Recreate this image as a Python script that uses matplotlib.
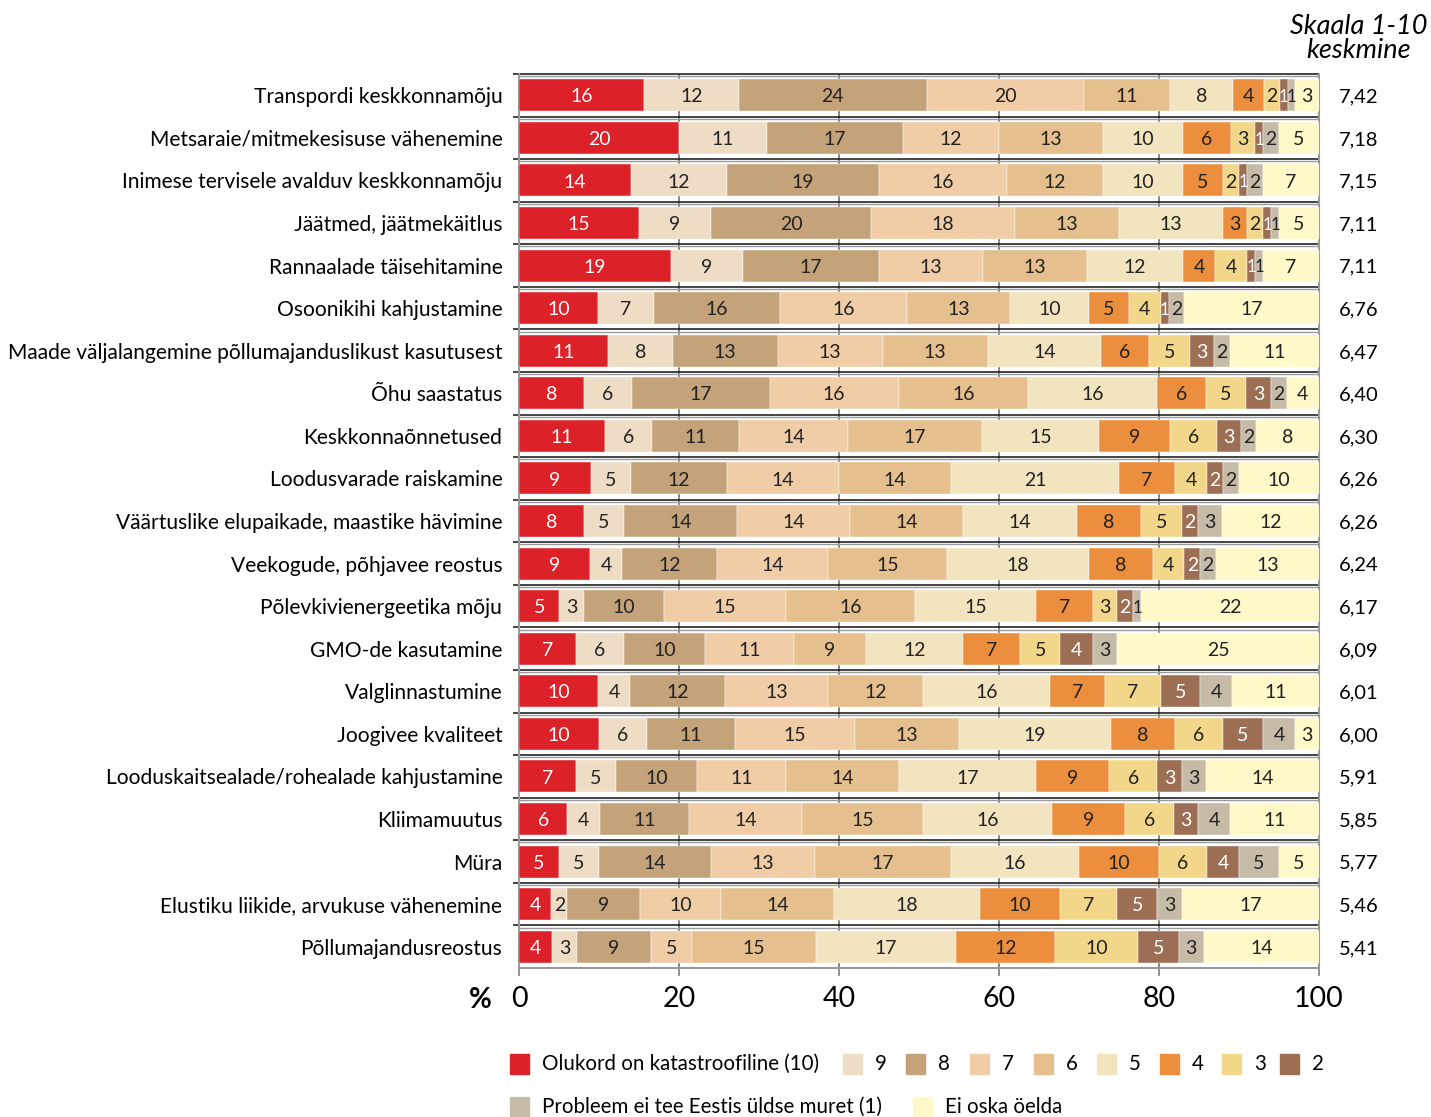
import numpy as np
import matplotlib.pyplot as plt
from matplotlib.patches import Rectangle

plt.rcParams['font.family'] = ['Lato', 'DejaVu Sans']

categories = [
    'Transpordi keskkonnamõju',
    'Metsaraie/mitmekesisuse vähenemine',
    'Inimese tervisele avalduv keskkonnamõju',
    'Jäätmed, jäätmekäitlus',
    'Rannaalade täisehitamine',
    'Osoonikihi kahjustamine',
    'Maade väljalangemine põllumajanduslikust kasutusest',
    'Õhu saastatus',
    'Keskkonnaõnnetused',
    'Loodusvarade raiskamine',
    'Väärtuslike elupaikade, maastike hävimine',
    'Veekogude, põhjavee reostus',
    'Põlevkivienergeetika mõju',
    'GMO-de kasutamine',
    'Valglinnastumine',
    'Joogivee kvaliteet',
    'Looduskaitsealade/rohealade kahjustamine',
    'Kliimamuutus',
    'Müra',
    'Elustiku liikide, arvukuse vähenemine',
    'Põllumajandusreostus',
]

# columns: score 10, 9, 8, 7, 6, 5, 4, 3, 2, 1, "ei oska öelda"
shares = [
    [16, 12, 24, 20, 11, 8, 4, 2, 1, 1, 3],
    [20, 11, 17, 12, 13, 10, 6, 3, 1, 2, 5],
    [14, 12, 19, 16, 12, 10, 5, 2, 1, 2, 7],
    [15, 9, 20, 18, 13, 13, 3, 2, 1, 1, 5],
    [19, 9, 17, 13, 13, 12, 4, 4, 1, 1, 7],
    [10, 7, 16, 16, 13, 10, 5, 4, 1, 2, 17],
    [11, 8, 13, 13, 13, 14, 6, 5, 3, 2, 11],
    [8, 6, 17, 16, 16, 16, 6, 5, 3, 2, 4],
    [11, 6, 11, 14, 17, 15, 9, 6, 3, 2, 8],
    [9, 5, 12, 14, 14, 21, 7, 4, 2, 2, 10],
    [8, 5, 14, 14, 14, 14, 8, 5, 2, 3, 12],
    [9, 4, 12, 14, 15, 18, 8, 4, 2, 2, 13],
    [5, 3, 10, 15, 16, 15, 7, 3, 2, 1, 22],
    [7, 6, 10, 11, 9, 12, 7, 5, 4, 3, 25],
    [10, 4, 12, 13, 12, 16, 7, 7, 5, 4, 11],
    [10, 6, 11, 15, 13, 19, 8, 6, 5, 4, 3],
    [7, 5, 10, 11, 14, 17, 9, 6, 3, 3, 14],
    [6, 4, 11, 14, 15, 16, 9, 6, 3, 4, 11],
    [5, 5, 14, 13, 17, 16, 10, 6, 4, 5, 5],
    [4, 2, 9, 10, 14, 18, 10, 7, 5, 3, 17],
    [4, 3, 9, 5, 15, 17, 12, 10, 5, 3, 14],
]

averages = ['7,42', '7,18', '7,15', '7,11', '7,11', '6,76', '6,47', '6,40', '6,30', '6,26',
            '6,26', '6,24', '6,17', '6,09', '6,01', '6,00', '5,91', '5,85', '5,77', '5,46', '5,41']

legend_labels = ['Olukord on katastroofiline (10)', '9', '8', '7', '6', '5', '4', '3', '2',
                 'Probleem ei tee Eestis üldse muret (1)', 'Ei oska öelda']

colors = ['#DC2128', '#EEDCC4', '#C4A27A', '#F0CDA6', '#E5BF8D', '#F3E4C0',
          '#EB8E3D', '#F2D68A', '#9C6F55', '#C6BBA6', '#FFF8C8']
white_text = {0, 8}

fig = plt.figure(figsize=(14.31, 11.17), dpi=100)
ax = fig.add_axes([519 / 1431, 1 - 968 / 1117, 800 / 1431, 894 / 1117])

data = np.array(shares, dtype=float)
pct = data / data.sum(axis=1, keepdims=True) * 100
y = np.arange(len(categories))
left = np.zeros(len(categories))

for j in range(pct.shape[1]):
    ax.barh(y, pct[:, j], left=left, height=0.75, color=colors[j],
            edgecolor='white', linewidth=0.3, zorder=3)
    for i in range(len(categories)):
        small = pct[i, j] < 1.6
        ax.text(left[i] + pct[i, j] / 2, y[i] + 0.04, str(shares[i][j]),
                ha='center', va='center', fontsize=12 if small else 14,
                color='white' if j in white_text else '#222222', zorder=4)
    left += pct[:, j]

# row separators (double line: black over grey) and gridlines
for k in range(len(categories)):
    ax.plot([-0.8, 100], [k - 0.5, k - 0.5], color='#111111', lw=1.1, zorder=2,
            clip_on=False, solid_capstyle='butt')
    ax.plot([0, 100], [k - 0.45, k - 0.45], color='#9a9a9a', lw=1.0, zorder=2,
            solid_capstyle='butt')
for xv in [20, 40, 60, 80]:
    ax.axvline(xv, color='#666666', lw=1.1, zorder=1)

ax.set_xlim(0, 100)
ax.set_ylim(len(categories) - 0.5, -0.5)
ax.set_yticks(y)
ax.set_yticklabels(categories, fontsize=15.1)
ax.tick_params(axis='y', length=0, pad=12)
ax.set_xticks([0, 20, 40, 60, 80, 100])
ax.tick_params(axis='x', direction='inout', length=12, width=1.3, color='#888888',
               labelsize=20.5, pad=7)
for s in ax.spines.values():
    s.set_color('#999999')
    s.set_linewidth(1.5)
ax.spines['top'].set_visible(False)

ax.text(-4.8, len(categories) - 0.5 + 0.75, '%', ha='center', va='center',
        fontsize=20, fontweight='bold', transform=ax.transData, clip_on=False)

for i, a in enumerate(averages):
    ax.text(105, y[i] + 0.04, a, ha='center', va='center', fontsize=14.5, clip_on=False)

fig.text(1359 / 1431, 1 - 26 / 1117, 'Skaala 1-10', ha='center', va='center',
         fontsize=19.5, style='italic')
fig.text(1359 / 1431, 1 - 51 / 1117, 'keskmine', ha='center', va='center',
         fontsize=19.5, style='italic')

# legend
leg_pos = [(510, 1064), (843, 1064), (906, 1064), (970, 1064), (1034, 1064),
           (1097, 1064), (1160, 1064), (1222, 1064), (1280, 1064),
           (510, 1107), (913, 1107)]
for (px, py), c, lab in zip(leg_pos, colors, legend_labels):
    fig.patches.append(Rectangle((px / 1431, 1 - (py + 10) / 1117), 19 / 1431, 20 / 1117,
                                 transform=fig.transFigure, color=c, figure=fig))
    fig.text((px + 32) / 1431, 1 - py / 1117, lab, ha='left', va='center', fontsize=14.8)

fig.savefig('out.png', dpi=100)
